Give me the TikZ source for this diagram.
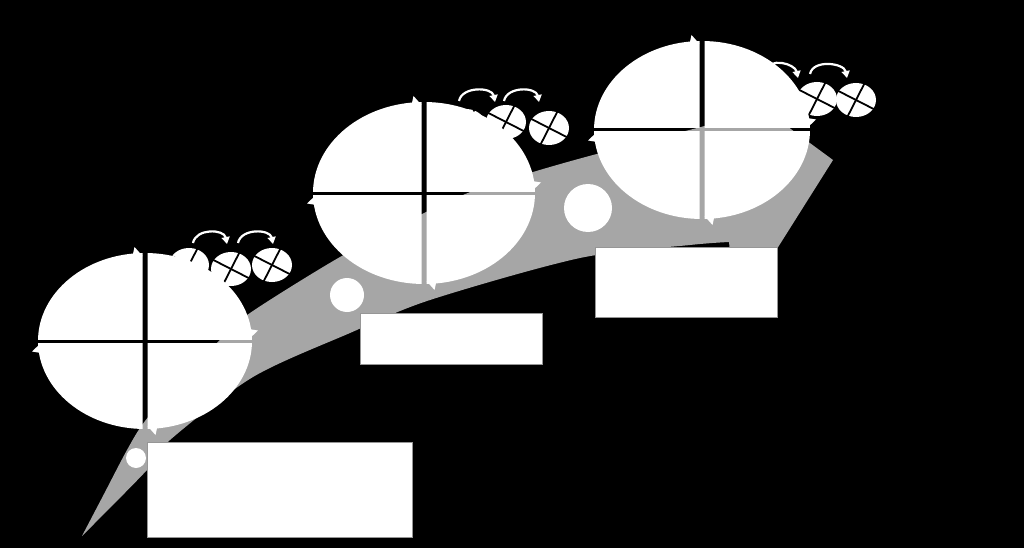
\documentclass[tikz,border=0pt]{standalone}
\usetikzlibrary{arrows.meta}
\definecolor{bandgray}{RGB}{166,166,166}
\definecolor{boxedge}{RGB}{150,150,150}
\tikzset{
  panel/.style={fill=white,draw=boxedge,line width=0.8pt,inner sep=0pt,anchor=north west},
  dot/.style={circle,fill=white,inner sep=0pt},
  turn/.style={white,line width=2.2pt,-{Triangle[length=7pt,width=8pt]}},
  crossline/.style={black,line width=1.8pt},
}
\newcommand\gearcirc[3]{%
  \fill[white] (#2,#3) ellipse[x radius=20pt,y radius=17pt];
  \draw[crossline] (#2-17.8,#3-9.1) -- (#2+17.8,#3+9.1);
  \draw[crossline] (#2-9.1,#3+17.8) -- (#2+9.1,#3-17.8);
  \coordinate (#1) at (#2,#3);
}
\newcommand\cyclepie[4]{%
  \def\Pcx{#1}\def\Pcy{#2}\def\Prx{#3}\def\Pry{#4}%
  \begin{scope}\clip (\Pcx-\Prx-9,\Pcy-\Pry-9) rectangle (\Pcx-2.5,\Pcy-2);
    \fill[white] (\Pcx,\Pcy) ellipse[x radius=\Prx pt,y radius=\Pry pt];\end{scope}
  \begin{scope}\clip (\Pcx+2.5,\Pcy-\Pry-9) rectangle (\Pcx+\Prx+9,\Pcy-2);
    \fill[white] (\Pcx,\Pcy) ellipse[x radius=\Prx pt,y radius=\Pry pt];\end{scope}
  \begin{scope}\clip (\Pcx+2.5,\Pcy+2) rectangle (\Pcx+\Prx+9,\Pcy+\Pry+9);
    \fill[white] (\Pcx,\Pcy) ellipse[x radius=\Prx pt,y radius=\Pry pt];\end{scope}
  \begin{scope}\clip (\Pcx-\Prx-9,\Pcy+2) rectangle (\Pcx-2.5,\Pcy+\Pry+9);
    \fill[white] (\Pcx,\Pcy) ellipse[x radius=\Prx pt,y radius=\Pry pt];\end{scope}
  \fill[white] (\Pcx-12.5,\Pcy-\Pry+3) -- (\Pcx-10.5,\Pcy-\Pry-6) -- (\Pcx-2.5,\Pcy-\Pry+3) -- cycle;
  \fill[white] (\Pcx+\Prx-3,\Pcy-12) -- (\Pcx+\Prx+6,\Pcy-10.5) -- (\Pcx+\Prx-3,\Pcy-2) -- cycle;
  \fill[white] (\Pcx+12.5,\Pcy+\Pry-3) -- (\Pcx+10.5,\Pcy+\Pry+6) -- (\Pcx+2.5,\Pcy+\Pry-3) -- cycle;
  \fill[white] (\Pcx-\Prx+3,\Pcy+12) -- (\Pcx-\Prx-6,\Pcy+10.5) -- (\Pcx-\Prx+3,\Pcy+2) -- cycle;
}
\begin{document}
\begin{tikzpicture}[x=1pt,y=-1pt]
\path[use as bounding box] (0,0) rectangle (1024,548);
\fill[black] (0,0) rectangle (1024,548);
% grey band
\fill[bandgray] plot[smooth] coordinates {(82,536) (104,494) (127,450) (145,421) (182,378) (220,340) (250,313) (340,257) (424,213) (473,191) (533,172) (593,155) (697,128) (765,110)}
  -- (833,160) -- (775,252) -- (730,252) --
  plot[smooth] coordinates {(729,242) (690,245) (580,258) (430,300) (350,333) (253,377) (170,440) (147,470) (82,536)} -- cycle;
% dots on band
\node[dot,minimum size=20pt] (d1) at (136,458) {};
\node[dot,minimum size=34pt] (d2) at (347,295) {};
\node[dot,minimum size=48pt] (d3) at (588,208) {};
% gear groups
\gearcirc{g1a}{189}{265}
\gearcirc{g1b}{231}{269}
\gearcirc{g1c}{272}{265}
\coordinate (t1a) at (193,243); \coordinate (t1b) at (227,244);
\coordinate (t1c) at (238,243); \coordinate (t1d) at (273,244);
\draw[turn] (t1a) .. controls +(3,-15) and +(-3,-15) .. (t1b);
\draw[turn] (t1c) .. controls +(3,-15) and +(-3,-15) .. (t1d);
\gearcirc{g2a}{466}{126}
\gearcirc{g2b}{506}{122}
\gearcirc{g2c}{549}{128}
\coordinate (t2a) at (459,101); \coordinate (t2b) at (495,102);
\coordinate (t2c) at (504,101); \coordinate (t2d) at (539,102);
\draw[turn] (t2a) .. controls +(3,-15) and +(-3,-15) .. (t2b);
\draw[turn] (t2c) .. controls +(3,-15) and +(-3,-15) .. (t2d);
\gearcirc{g3a}{778}{97}
\gearcirc{g3b}{817}{99}
\gearcirc{g3c}{856}{100}
\coordinate (t3a) at (765,72); \coordinate (t3b) at (798,78);
\coordinate (t3c) at (810,74); \coordinate (t3d) at (847,78);
\draw[turn] (t3a) .. controls +(4,-16) and +(-3,-14) .. (t3b);
\draw[turn] (t3c) .. controls +(3,-15) and +(-3,-15) .. (t3d);
% cycle ellipses
\cyclepie{145}{341}{107}{88}
\cyclepie{424}{193}{111}{91}
\cyclepie{702}{130}{108}{89}
% boxes
\node[panel,minimum width=265pt,minimum height=95pt] (b1) at (147,442) {};
\node[panel,minimum width=182pt,minimum height=51pt] (b2) at (360,313) {};
\node[panel,minimum width=182pt,minimum height=70pt] (b3) at (595,247) {};
\end{tikzpicture}
\end{document}
